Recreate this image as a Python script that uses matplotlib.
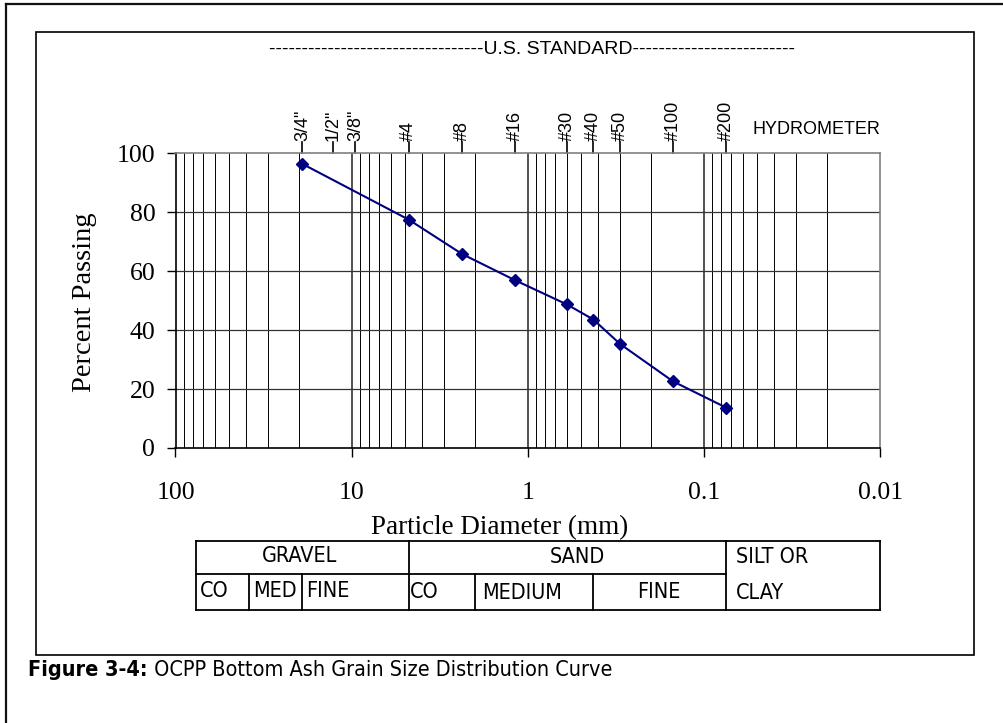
import matplotlib
matplotlib.use("Agg")
import matplotlib.pyplot as plt
import matplotlib.transforms as mtransforms
from matplotlib import font_manager
from matplotlib.font_manager import FontProperties

# sieve sizes used in the test (mm) and percent passing
sieve_labels = ['3/4"', '1/2"', '3/8"', '#4', '#8', '#16', '#30', '#40', '#50', '#100', '#200']
sieve_mm = [19.05, 12.7, 9.525, 4.75, 2.36, 1.18, 0.6, 0.425, 0.3, 0.15, 0.075]
test_mm = [19.05, 4.75, 2.36, 1.18, 0.6, 0.425, 0.3, 0.15, 0.075]
pct_passing = [96.4, 77.5, 65.8, 56.9, 48.7, 43.6, 35.3, 22.6, 13.7]

x_ticks = [100, 10, 1, 0.1, 0.01]
x_tick_labels = ['100', '10', '1', '0.1', '0.01']
y_ticks = [0, 20, 40, 60, 80, 100]

# soil classification table: boundaries in mm
table_bounds = [76.2, 38.1, 19.05, 4.75, 2.0, 0.425, 0.075, 0.01]
gravel_sub = ['CO', 'MED', 'FINE']
sand_sub = ['CO', 'MEDIUM', 'FINE']

SERIF = 'Liberation Serif'
SANS = 'Liberation Sans'


def find_narrow(bold=False):
    # look for a condensed sans font, if one is installed
    for f in font_manager.fontManager.ttflist:
        nm = f.name + ' ' + str(f.stretch)
        if not any(k in nm for k in ['Narrow', 'Condensed', 'condensed']):
            continue
        if 'Mono' in f.name or 'Serif' in f.name or f.style != 'normal':
            continue
        w = f.weight if isinstance(f.weight, int) else (700 if f.weight == 'bold' else 400)
        if (w >= 600) == bold:
            return f.fname
    return None


nf = find_narrow(False)
nfb = find_narrow(True)
if nf:
    def NP(size, bold=False):
        return FontProperties(fname=(nfb if (bold and nfb) else nf), size=size)
    tfs, cfs = 15.5, 15.5
else:
    def NP(size, bold=False):
        return FontProperties(family=SANS, size=size, weight='bold' if bold else 'normal')
    tfs, cfs = 14, 15.5

W, H = 1004, 723
fig = plt.figure(figsize=(W / 100, H / 100), dpi=100)
# pixel coords, origin top-left
PX = mtransforms.Affine2D().scale(1, -1).translate(0, H)

L, R, T, B = 175.5, 880.3, 153.3, 448.0
ax = fig.add_axes([L / W, 1 - B / H, (R - L) / W, (B - T) / H])
ax.set_xscale('log')
ax.set_xlim(100, 0.01)
ax.set_ylim(0, 100)

# grid lines
for d in [100, 10, 1, 0.1]:
    for k in range(2, 10):
        ax.axvline(d * k / 10, color='black', lw=0.7, zorder=1)
for d in [10, 1, 0.1]:
    ax.axvline(d, color='#333333', lw=1.2, zorder=1)
for v in y_ticks[1:-1]:
    ax.axhline(v, color='#333333', lw=0.9, zorder=1)

ax.plot(test_mm, pct_passing, color='#000080', lw=1.5, marker='D', ms=6.5,
        markerfacecolor='#000080', markeredgecolor='#000080', zorder=3)

ax.set_xticks(x_ticks, x_tick_labels)
ax.minorticks_off()
ax.set_yticks(y_ticks, [str(v) for v in y_ticks])
ax.tick_params(axis='x', direction='out', length=6.5, width=1, pad=18,
               labelsize=18.5, labelfontfamily=SERIF)
ax.tick_params(axis='y', direction='out', length=6.5, width=1, pad=8,
               labelsize=18.5, labelfontfamily=SERIF)
for s in ['left', 'bottom']:
    ax.spines[s].set_color('black')
    ax.spines[s].set_linewidth(1.2)
for s in ['top', 'right']:
    ax.spines[s].set_color('#808080')
    ax.spines[s].set_linewidth(1.2)

fig.text(85 / W, 1 - 302 / H, 'Percent Passing', rotation=90, ha='center', va='center',
         fontsize=20.5, family=SERIF)
fig.text(499.5 / W, 1 - 528 / H, 'Particle Diameter (mm)', ha='center', va='center',
         fontsize=19.5, family=SERIF)

# sieve labels above the plot
XB = mtransforms.blended_transform_factory(ax.transData, PX)
for lab, mm in zip(sieve_labels, sieve_mm):
    ax.plot([mm, mm], [142, T], color='black', lw=1.2, transform=XB, clip_on=False)
    ax.text(mm, 141, lab, rotation=90, ha='center', va='bottom', fontsize=13,
            family=SANS, transform=XB, clip_on=False)
ax.text(753, 129, 'HYDROMETER', ha='left', va='center', fontsize=13, family=SANS,
        transform=PX)
ax.text(532, 50, '-' * 33 + 'U.S. STANDARD' + '-' * 25, ha='center', va='center',
        fontsize=14, family=SANS, transform=PX)

# classification table
t_top, t_mid, t_bot = 540.7, 573.7, 610.0
lw_t = 1.3
x0, x1 = table_bounds[0], table_bounds[-1]
ax.plot([x0, x1], [t_top, t_top], color='black', lw=lw_t, transform=XB, clip_on=False)
ax.plot([x0, x1], [t_bot, t_bot], color='black', lw=lw_t, transform=XB, clip_on=False)
ax.plot([x0, table_bounds[6]], [t_mid, t_mid], color='black', lw=lw_t, transform=XB, clip_on=False)
for xb in [table_bounds[0], table_bounds[3], table_bounds[6], table_bounds[7]]:
    ax.plot([xb, xb], [t_top, t_bot], color='black', lw=lw_t, transform=XB, clip_on=False)
for xb in [table_bounds[1], table_bounds[2], table_bounds[4], table_bounds[5]]:
    ax.plot([xb, xb], [t_mid, t_bot], color='black', lw=lw_t, transform=XB, clip_on=False)

tp = NP(tfs)
ax.text(300, 556, 'GRAVEL', ha='center', va='center', fontproperties=tp, transform=PX)
ax.text(577, 557, 'SAND', ha='center', va='center', fontproperties=tp, transform=PX)
ax.text(736, 557, 'SILT OR', ha='left', va='center', fontproperties=tp, transform=PX)
ax.text(736, 593, 'CLAY', ha='left', va='center', fontproperties=tp, transform=PX)
for lab, xp in zip(gravel_sub, [200, 253, 306]):
    ax.text(xp, 591, lab, ha='left', va='center', fontproperties=tp, transform=PX)
ax.text(410, 592, sand_sub[0], ha='left', va='center', fontproperties=tp, transform=PX)
ax.text(482, 593, sand_sub[1], ha='left', va='center', fontproperties=tp, transform=PX)
ax.text(659, 592, sand_sub[2], ha='center', va='center', fontproperties=tp, transform=PX)

# frames
fig.add_artist(plt.Line2D([6, 6], [4.3, H], color='#111111', lw=1.6, transform=PX))
fig.add_artist(plt.Line2D([6, W], [4.3, 4.3], color='#111111', lw=1.6, transform=PX))
fig.add_artist(plt.Rectangle((36, 32.3), 974.3 - 36, 655 - 32.3, fill=False,
                             edgecolor='black', lw=1.2, transform=PX))

# caption
cap = fig.text(28 / W, 1 - 670 / H, 'Figure 3-4:', ha='left', va='center',
               fontproperties=NP(cfs, bold=True))
fig.add_artist(matplotlib.text.Annotation(' OCPP Bottom Ash Grain Size Distribution Curve',
                                          xy=(1, 0.5), xycoords=cap, va='center', ha='left',
                                          fontproperties=NP(cfs)))

fig.savefig('out.png', dpi=100)
